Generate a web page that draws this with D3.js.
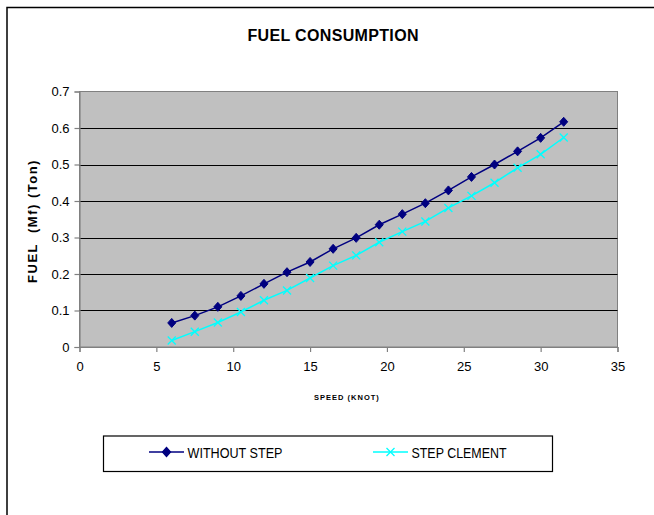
<!DOCTYPE html>
<html>
<head>
  <meta charset="utf-8">
  <script src="https://cdn.jsdelivr.net/npm/d3@7"></script>
  <style>
    body { margin: 0; background: #fff; }
    text { font-family: "Liberation Sans", Arial, sans-serif; }
  </style>
</head>
<body>
<div id="container"></div>
<script>
  // speed (knot)
  let speed = [6, 7.5, 9, 10.5, 12, 13.5, 15, 16.5, 18, 19.5, 21, 22.5, 24, 25.5, 27, 28.5, 30, 31.5];
  // fuel (ton)
  let withoutStep = [0.066, 0.086, 0.110, 0.140, 0.173, 0.205, 0.233, 0.269, 0.299, 0.335, 0.364, 0.394, 0.429, 0.466, 0.500, 0.536, 0.573, 0.617];
  let stepClement = [0.018, 0.042, 0.067, 0.096, 0.128, 0.155, 0.189, 0.223, 0.251, 0.287, 0.316, 0.344, 0.381, 0.414, 0.450, 0.491, 0.528, 0.574];
  let xTicks = [0, 5, 10, 15, 20, 25, 30, 35];
  let yTicks = [0, 0.1, 0.2, 0.3, 0.4, 0.5, 0.6, 0.7];
  let seriesNames = ["WITHOUT STEP", "STEP CLEMENT"];

  let svg_width = 654;
  let svg_height = 515;
  let plot = { left: 79.5, right: 617.5, top: 91.5, bottom: 347 };

  let svg = d3.select("#container").append("svg")
          .attr("width", svg_width)
          .attr("height", svg_height);

  // outer chart border (only top / left visible)
  svg.append("path")
          .attr("d", "M7,515 L7,7.5 L654,7.5")
          .attr("fill", "none")
          .attr("stroke", "#000")
          .attr("stroke-width", 1.5);

  let xScale = d3.scaleLinear().domain([0, 35]).range([plot.left, plot.right]);
  let yScale = d3.scaleLinear().domain([0, 0.7]).range([plot.bottom, plot.top]);

  // plot area
  svg.append("rect")
          .attr("x", plot.left)
          .attr("y", plot.top)
          .attr("width", plot.right - plot.left)
          .attr("height", plot.bottom - plot.top)
          .attr("fill", "#c0c0c0")
          .attr("stroke", "#808080")
          .attr("stroke-width", 1);

  // gridlines
  svg.append("g")
          .selectAll("line")
          .data(yTicks.filter(function (d) { return d > 0 && d < 0.7; }))
          .enter()
          .append("line")
          .attr("x1", plot.left)
          .attr("x2", plot.right)
          .attr("y1", function (d) { return Math.round(yScale(d)) + 0.5; })
          .attr("y2", function (d) { return Math.round(yScale(d)) + 0.5; })
          .attr("stroke", "#000")
          .attr("stroke-width", 1);

  let x_axis = d3.axisBottom(xScale).tickValues(xTicks).tickSize(5).tickPadding(10).tickFormat(d3.format("d"));
  let y_axis = d3.axisLeft(yScale).tickValues(yTicks).tickSize(5).tickPadding(5).tickFormat(function (d) { return d === 0 ? "0" : d3.format(".1f")(d); });

  let gx = svg.append("g")
          .attr("transform", "translate(0," + plot.bottom + ")")
          .call(x_axis);
  let gy = svg.append("g")
          .attr("transform", "translate(" + plot.left + ",0)")
          .call(y_axis);

  [gx, gy].forEach(function (g) {
    g.select(".domain").attr("stroke", "#808080").attr("stroke-width", 1.2);
    g.selectAll(".tick line").attr("stroke", "#808080").attr("stroke-width", 1.2);
    g.selectAll(".tick text")
            .style("font-family", "'Liberation Sans', Arial, sans-serif")
            .style("font-size", "13px")
            .attr("fill", "#000");
  });

  let line = d3.line()
          .x(function (d) { return xScale(d[0]); })
          .y(function (d) { return yScale(d[1]); });

  let data1 = speed.map(function (s, i) { return [s, withoutStep[i]]; });
  let data2 = speed.map(function (s, i) { return [s, stepClement[i]]; });

  let diamond = "M0,-4.5 L4,0 L0,4.5 L-4,0 Z";
  let cross = "M-4,-4 L4,4 M-4,4 L4,-4";

  svg.append("path")
          .datum(data1)
          .attr("fill", "none")
          .attr("stroke", "#000080")
          .attr("stroke-width", 1.5)
          .attr("d", line);

  svg.append("g")
          .selectAll("path")
          .data(data1)
          .enter()
          .append("path")
          .attr("transform", function (d) { return "translate(" + xScale(d[0]) + "," + yScale(d[1]) + ")"; })
          .attr("d", diamond)
          .attr("fill", "#000080")
          .attr("stroke", "#000080");

  svg.append("path")
          .datum(data2)
          .attr("fill", "none")
          .attr("stroke", "#00ffff")
          .attr("stroke-width", 1.5)
          .attr("d", line);

  svg.append("g")
          .selectAll("path")
          .data(data2)
          .enter()
          .append("path")
          .attr("transform", function (d) { return "translate(" + xScale(d[0]) + "," + yScale(d[1]) + ")"; })
          .attr("d", cross)
          .attr("fill", "none")
          .attr("stroke", "#00ffff")
          .attr("stroke-width", 1.3);

  // titles
  svg.append("text")
          .attr("x", 333)
          .attr("y", 41)
          .attr("text-anchor", "middle")
          .style("font-size", "16px")
          .style("font-weight", "bold")
          .attr("textLength", 171)
          .text("FUEL CONSUMPTION");

  svg.append("text")
          .attr("x", 347)
          .attr("y", 400)
          .attr("text-anchor", "middle")
          .style("font-size", "7.5px")
          .style("font-weight", "bold")
          .style("letter-spacing", "1px")
          .text("SPEED (KNOT)");

  svg.append("text")
          .attr("transform", "translate(37," + 221 + ") rotate(-90)")
          .attr("text-anchor", "middle")
          .style("font-size", "13px")
          .style("font-weight", "bold")
          .style("letter-spacing", "1.5px")
          .style("white-space", "pre")
          .attr("xml:space", "preserve")
          .text("FUEL  (Mf) (Ton)");

  // legend
  svg.append("rect")
          .attr("x", 103.5)
          .attr("y", 436)
          .attr("width", 449)
          .attr("height", 35.5)
          .attr("fill", "#fff")
          .attr("stroke", "#000")
          .attr("stroke-width", 1.2);

  let legendX = [149, 373];
  let legendTextW = [95, 95];
  let legendColors = ["#000080", "#00ffff"];
  let legendShapes = [diamond, cross];

  seriesNames.forEach(function (name, i) {
    let lg = svg.append("g").attr("transform", "translate(" + legendX[i] + ",452)");
    lg.append("line")
            .attr("x1", 0).attr("x2", 35)
            .attr("y1", 0).attr("y2", 0)
            .attr("stroke", legendColors[i])
            .attr("stroke-width", 1.5);
    lg.append("path")
            .attr("transform", "translate(17.5,0)")
            .attr("d", legendShapes[i])
            .attr("fill", i === 0 ? legendColors[i] : "none")
            .attr("stroke", legendColors[i])
            .attr("stroke-width", 1.3);
    lg.append("text")
            .attr("x", 38.5)
            .attr("y", 5.5)
            .style("font-size", "15px")
            .attr("textLength", legendTextW[i])
            .attr("lengthAdjust", "spacingAndGlyphs")
            .text(name);
  });
</script>
</body>
</html>
